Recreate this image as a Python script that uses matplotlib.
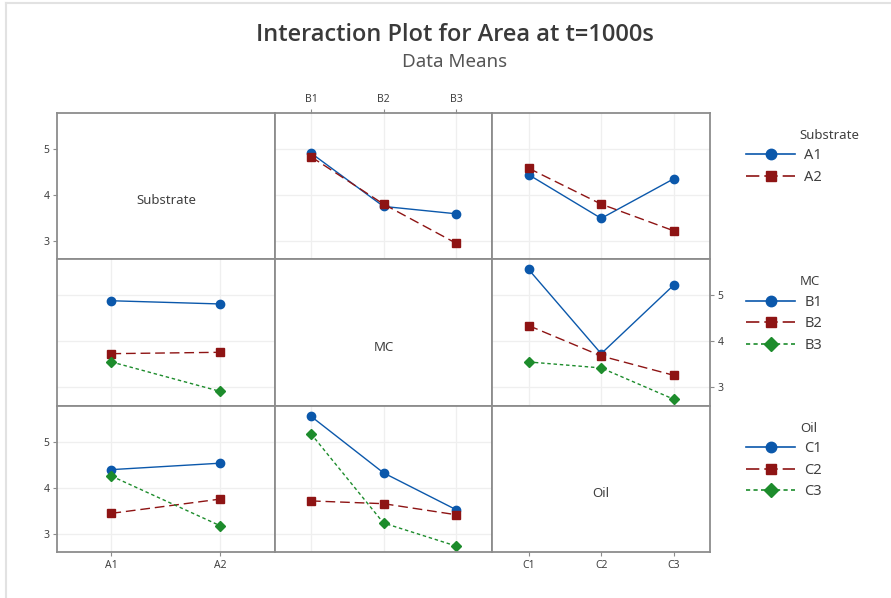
import numpy as np
import matplotlib
matplotlib.use('Agg')
import matplotlib.pyplot as plt
from matplotlib.lines import Line2D

plt.rcParams['font.family'] = ['Noto Sans', 'DejaVu Sans']

# factor names and levels
factors = ['Substrate', 'MC', 'Oil']
levels = {
    'Substrate': ['A1', 'A2'],
    'MC': ['B1', 'B2', 'B3'],
    'Oil': ['C1', 'C2', 'C3'],
}

# means (trace factor vs x factor), one list per trace level
sub_vs_mc_a1 = [4.91, 3.75, 3.59]
sub_vs_mc_a2 = [4.83, 3.80, 2.95]
sub_vs_oil_a1 = [4.44, 3.49, 4.35]
sub_vs_oil_a2 = [4.58, 3.80, 3.22]

mc_vs_sub_b1 = [4.88, 4.81]
mc_vs_sub_b2 = [3.73, 3.76]
mc_vs_sub_b3 = [3.55, 2.91]
mc_vs_oil_b1 = [5.56, 3.73, 5.22]
mc_vs_oil_b2 = [4.34, 3.68, 3.26]
mc_vs_oil_b3 = [3.55, 3.42, 2.74]

oil_vs_sub_c1 = [4.39, 4.53]
oil_vs_sub_c2 = [3.44, 3.75]
oil_vs_sub_c3 = [4.25, 3.17]
oil_vs_mc_c1 = [5.55, 4.32, 3.52]
oil_vs_mc_c2 = [3.71, 3.65, 3.41]
oil_vs_mc_c3 = [5.17, 3.23, 2.73]

means = {
    ('Substrate', 'MC'): [sub_vs_mc_a1, sub_vs_mc_a2],
    ('Substrate', 'Oil'): [sub_vs_oil_a1, sub_vs_oil_a2],
    ('MC', 'Substrate'): [mc_vs_sub_b1, mc_vs_sub_b2, mc_vs_sub_b3],
    ('MC', 'Oil'): [mc_vs_oil_b1, mc_vs_oil_b2, mc_vs_oil_b3],
    ('Oil', 'Substrate'): [oil_vs_sub_c1, oil_vs_sub_c2, oil_vs_sub_c3],
    ('Oil', 'MC'): [oil_vs_mc_c1, oil_vs_mc_c2, oil_vs_mc_c3],
}

colors = ['#0b58ab', '#8e1414', '#1d8c2c']
markers = ['o', 's', 'D']
msizes = [6, 6, 5.5]
dashes = [None, (7, 3.5), (2.5, 2)]

yticks = [3, 4, 5]
ylim = (2.6, 5.78)

frame_col = '#8c8c8c'
text_col = '#404040'

fig = plt.figure(figsize=(8.91, 5.98), dpi=100)
W, H = 891, 598
x0, x1 = 57, 710
y0, y1 = 113, 552
cw = (x1 - x0) / 3
rh = (y1 - y0) / 3

# faint page border at left / top
fig.add_artist(Line2D([6 / W, 6 / W], [0, 1 - 3 / H], color='#e2e2e2', linewidth=1.5))
fig.add_artist(Line2D([6 / W, 1], [1 - 3 / H, 1 - 3 / H], color='#e2e2e2', linewidth=1.5))

for r, tf in enumerate(factors):
    for c, xf in enumerate(factors):
        ax = fig.add_axes([(x0 + c * cw) / W, 1 - (y0 + (r + 1) * rh) / H, cw / W, rh / H])
        n = len(levels[xf])
        ax.set_xlim(0.5, n + 0.5)
        ax.set_ylim(*ylim)
        for s in ax.spines.values():
            s.set_color(frame_col)
            s.set_linewidth(1.3)
        ax.tick_params(colors=frame_col, labelcolor=text_col, labelsize=7.5, length=3,
                       width=0.8, pad=2.5)
        ax.set_xticks(range(1, n + 1))
        ax.set_yticks(yticks)
        ax.set_xticklabels([])
        ax.set_yticklabels([])
        ax.tick_params(bottom=False, left=False)
        if r == c:
            ax.text(0.5, 0.4, tf, transform=ax.transAxes, ha='center', va='center',
                    fontsize=9.5, color=text_col)
        else:
            ax.grid(True, color='#efefef', linewidth=0.9)
            ax.set_axisbelow(True)
            xs = np.arange(1, n + 1)
            for k, ys in enumerate(means[(tf, xf)]):
                ln, = ax.plot(xs, ys, color=colors[k], marker=markers[k], markersize=msizes[k],
                              linewidth=1.0)
                if dashes[k] is not None:
                    ln.set_dashes(dashes[k])
        # tick labels only on the outer edges
        if c == 0 and r in (0, 2):
            ax.tick_params(left=True)
            ax.set_yticklabels([str(v) for v in yticks])
        if r == 1 and c == 2:
            ax.yaxis.tick_right()
            ax.tick_params(right=True)
            ax.set_yticklabels([str(v) for v in yticks])
        if r == 0 and c == 1:
            ax.xaxis.tick_top()
            ax.tick_params(top=True)
            ax.set_xticklabels(levels[xf])
        if r == 2 and c in (0, 2):
            ax.tick_params(bottom=True)
            ax.set_xticklabels(levels[xf])

# one legend per row
for r, tf in enumerate(factors):
    handles = []
    for k, lv in enumerate(levels[tf]):
        h = Line2D([], [], color=colors[k], marker=markers[k], markersize=msizes[k] + 1.5,
                   linewidth=1.2, label=lv)
        if dashes[k] is not None:
            h.set_dashes(dashes[k] if k == 2 else (8, 3))
        handles.append(h)
    leg = fig.legend(handles=handles, title=tf, loc='upper left',
                     bbox_to_anchor=(740 / W, 1 - (y0 + r * rh + 10) / H),
                     frameon=False, fontsize=10.5, title_fontsize=9.5,
                     handlelength=3.4, handletextpad=0.6, labelspacing=0.45,
                     borderaxespad=0)
    leg._legend_box.align = 'left'
    leg.get_title().set_color(text_col)
    leg.get_title().set_position((54, 0))
    for t in leg.get_texts():
        t.set_color(text_col)

fig.text(455 / W, 1 - 35 / H, 'Interaction Plot for Area at t=1000s', ha='center', va='center',
         fontsize=17, fontweight='semibold', family=['Open Sans', 'DejaVu Sans'],
         color='#3a3a3a')
fig.text(455 / W, 1 - 62 / H, 'Data Means', ha='center', va='center',
         fontsize=13.5, color='#555555')

fig.savefig('out.png', dpi=100)
